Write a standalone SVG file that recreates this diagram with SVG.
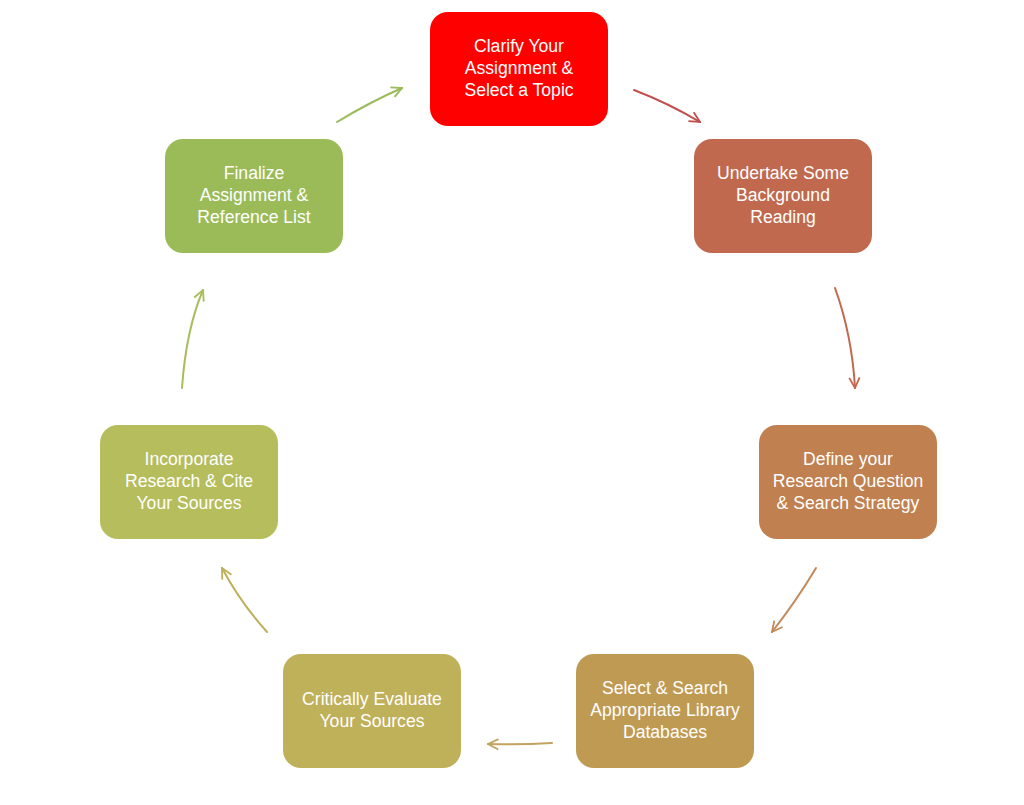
<svg xmlns="http://www.w3.org/2000/svg" width="1024" height="805" viewBox="0 0 1024 805">
<style>
.box{stroke:none}
.t{font-family:"Liberation Sans",Arial,sans-serif;font-size:17.6px;fill:#ffffff;text-anchor:middle}
.c{fill:none;stroke-width:2;stroke-linecap:round}
</style>
<defs>
<marker id="m1" viewBox="0 0 10 10" refX="9" refY="5" markerWidth="13" markerHeight="13" markerUnits="userSpaceOnUse" orient="auto"><path d="M1,1 L9,5 L1,9" fill="none" stroke="#C0504D" stroke-width="1.4"/></marker>
<marker id="m2" viewBox="0 0 10 10" refX="9" refY="5" markerWidth="13" markerHeight="13" markerUnits="userSpaceOnUse" orient="auto"><path d="M1,1 L9,5 L1,9" fill="none" stroke="#C0694E" stroke-width="1.4"/></marker>
<marker id="m3" viewBox="0 0 10 10" refX="9" refY="5" markerWidth="13" markerHeight="13" markerUnits="userSpaceOnUse" orient="auto"><path d="M1,1 L9,5 L1,9" fill="none" stroke="#C4895A" stroke-width="1.4"/></marker>
<marker id="m4" viewBox="0 0 10 10" refX="9" refY="5" markerWidth="13" markerHeight="13" markerUnits="userSpaceOnUse" orient="auto"><path d="M1,1 L9,5 L1,9" fill="none" stroke="#C4A362" stroke-width="1.4"/></marker>
<marker id="m5" viewBox="0 0 10 10" refX="9" refY="5" markerWidth="13" markerHeight="13" markerUnits="userSpaceOnUse" orient="auto"><path d="M1,1 L9,5 L1,9" fill="none" stroke="#BFB05A" stroke-width="1.4"/></marker>
<marker id="m6" viewBox="0 0 10 10" refX="9" refY="5" markerWidth="13" markerHeight="13" markerUnits="userSpaceOnUse" orient="auto"><path d="M1,1 L9,5 L1,9" fill="none" stroke="#A8BD5C" stroke-width="1.4"/></marker>
<marker id="m7" viewBox="0 0 10 10" refX="9" refY="5" markerWidth="13" markerHeight="13" markerUnits="userSpaceOnUse" orient="auto"><path d="M1,1 L9,5 L1,9" fill="none" stroke="#9BBB59" stroke-width="1.4"/></marker>
</defs>
<rect width="1024" height="805" fill="#ffffff"/>
<g id="connectors">
<path class="c" d="M634,90 Q668,103 700,122" stroke="#C0504D" marker-end="url(#m1)"/>
<path class="c" d="M835,288 Q852,335 855,388" stroke="#C0694E" marker-end="url(#m2)"/>
<path class="c" d="M816,568 Q797,600 772,632" stroke="#C4895A" marker-end="url(#m3)"/>
<path class="c" d="M552,743 Q520,745 488,744" stroke="#C4A362" marker-end="url(#m4)"/>
<path class="c" d="M267,632 Q240,602 222,568" stroke="#BFB05A" marker-end="url(#m5)"/>
<path class="c" d="M182,388 Q186,330 203,290" stroke="#A8BD5C" marker-end="url(#m6)"/>
<path class="c" d="M337,122 Q370,102 402,88" stroke="#9BBB59" marker-end="url(#m7)"/>
</g>
<g id="n1">
<rect class="box" x="430" y="12" width="178" height="114" rx="18" fill="#FF0000"/>
<text class="t" x="519" y="52">Clarify Your</text>
<text class="t" x="519" y="74">Assignment &amp;</text>
<text class="t" x="519" y="96">Select a Topic</text>
</g>
<g id="n2">
<rect class="box" x="694" y="139" width="178" height="114" rx="18" fill="#C0694E"/>
<text class="t" x="783" y="179">Undertake Some</text>
<text class="t" x="783" y="201">Background</text>
<text class="t" x="783" y="223">Reading</text>
</g>
<g id="n3">
<rect class="box" x="759" y="425" width="178" height="114" rx="18" fill="#C0804F"/>
<text class="t" x="848" y="465">Define your</text>
<text class="t" x="848" y="487">Research Question</text>
<text class="t" x="848" y="509">&amp; Search Strategy</text>
</g>
<g id="n4">
<rect class="box" x="576" y="654" width="178" height="114" rx="18" fill="#BF9A52"/>
<text class="t" x="665" y="694">Select &amp; Search</text>
<text class="t" x="665" y="716">Appropriate Library</text>
<text class="t" x="665" y="738">Databases</text>
</g>
<g id="n5">
<rect class="box" x="283" y="654" width="178" height="114" rx="18" fill="#BFB05A"/>
<text class="t" x="372" y="705">Critically Evaluate</text>
<text class="t" x="372" y="727">Your Sources</text>
</g>
<g id="n6">
<rect class="box" x="100" y="425" width="178" height="114" rx="18" fill="#B5BD5C"/>
<text class="t" x="189" y="465">Incorporate</text>
<text class="t" x="189" y="487">Research &amp; Cite</text>
<text class="t" x="189" y="509">Your Sources</text>
</g>
<g id="n7">
<rect class="box" x="165" y="139" width="178" height="114" rx="18" fill="#9BBB59"/>
<text class="t" x="254" y="179">Finalize</text>
<text class="t" x="254" y="201">Assignment &amp;</text>
<text class="t" x="254" y="223">Reference List</text>
</g>
</svg>
